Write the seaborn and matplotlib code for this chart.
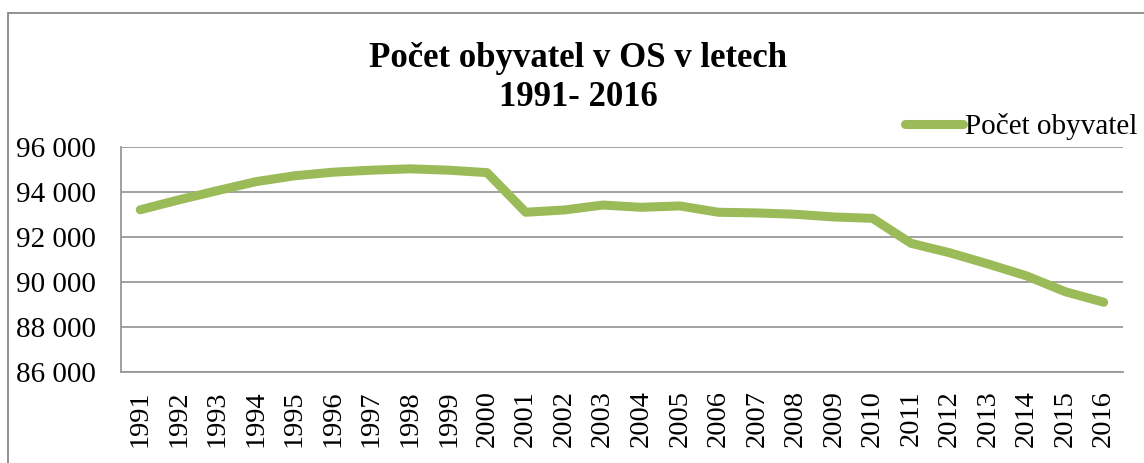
import matplotlib
matplotlib.use("Agg")
import matplotlib.pyplot as plt
import matplotlib.ticker as mticker
from matplotlib.patches import Rectangle
import seaborn as sns
import pandas as pd

# data
years = list(range(1991, 2017))
population = [93210, 93650, 94060, 94460, 94720, 94880, 94970, 95030, 94970, 94860,
              93100, 93200, 93420, 93320, 93380, 93100, 93070, 93010, 92890, 92830,
              91720, 91300, 90800, 90270, 89570, 89100]
series_name = "Počet obyvatel"
title = "Počet obyvatel v OS v letech\n1991- 2016"
y_ticks = [86000, 88000, 90000, 92000, 94000, 96000]

df = pd.DataFrame({"rok": years, series_name: population})

sns.set_theme(style="white")
plt.rcParams["font.family"] = ["Liberation Serif", "DejaVu Serif"]
plt.rcParams["text.color"] = "black"

W, H = 1144, 463
fig = plt.figure(figsize=(W / 100, H / 100), dpi=100)
ax = fig.add_axes([121 / W, 1 - 372 / H, (1123 - 121) / W, (372 - 147) / H])

sns.lineplot(data=df, x="rok", y=series_name, ax=ax, color="#9BBB59",
             linewidth=6.5, solid_capstyle="round", label=series_name)

ax.set_xlim(1990.5, 2016.5)
ax.set_ylim(86000, 96000)
ax.set_xticks(years)
ax.set_xticklabels([str(y) for y in years], rotation=90, fontsize=20.5)
ax.set_yticks(y_ticks)
ax.yaxis.set_major_formatter(mticker.FuncFormatter(lambda v, p: f"{int(v):,}".replace(",", " ")))
ax.tick_params(axis="y", labelsize=21, length=0, pad=18, labelcolor="black")
ax.tick_params(axis="x", length=0, pad=13, labelcolor="black")
ax.set_xlabel("")
ax.set_ylabel("")
ax.yaxis.grid(True, color="#999999", linewidth=1.3)
ax.set_axisbelow(True)
for s in ["top", "right"]:
    ax.spines[s].set_visible(False)
for s in ["left", "bottom"]:
    ax.spines[s].set_color("#999999")
    ax.spines[s].set_linewidth(1.3)

leg = ax.legend(loc="center left", bbox_to_anchor=(905 / W, 1 - 127 / H),
                bbox_transform=fig.transFigure, frameon=False, fontsize=21,
                handlelength=2.0, handletextpad=0.05, borderpad=0, borderaxespad=0)
for t in leg.get_texts():
    t.set_color("black")

fig.text(578 / W, 1 - 78 / H, title, ha="center", va="center", fontsize=25,
         fontweight="bold", linespacing=1.25, color="black")

# outer chart border (cut off at right and bottom in the reference)
fig.patches.append(Rectangle((8 / W, -0.1), 1.2, (H - 13) / H + 0.1, transform=fig.transFigure,
                             fill=False, edgecolor="#888888", linewidth=1.3))

fig.savefig("out.png", dpi=100)
